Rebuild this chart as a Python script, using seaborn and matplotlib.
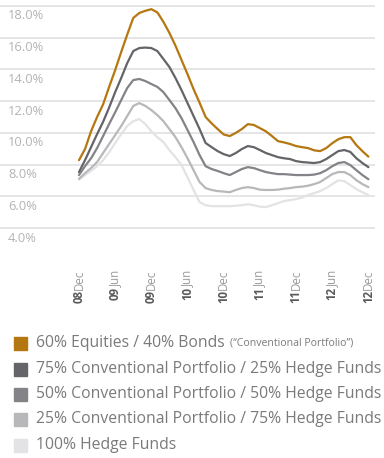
import numpy as np
import pandas as pd
import seaborn as sns
import matplotlib.pyplot as plt
from matplotlib.patches import Rectangle

# Monthly observations, Dec 2008 .. Dec 2012 (index 0..48)
months = list(range(49))

tick_months = [0, 6, 12, 18, 24, 30, 36, 42, 48]
tick_years = ["08", "09", "09", "10", "10", "11", "11", "12", "12"]
tick_mons = ["Dec", "Jun", "Dec", "Jun", "Dec", "Jun", "Dec", "Jun", "Dec"]

y_grid = [4, 6, 8, 10, 12, 14, 16, 18]

conventional = [8.28, 8.98, 10.1, 11.0, 11.8, 12.9, 13.96, 15.1, 16.2, 17.25,
                17.56, 17.7, 17.8, 17.6, 17.0, 16.3, 15.5, 14.6, 13.7, 12.76,
                11.9, 11.0, 10.6, 10.24, 9.9, 9.8, 10.0, 10.24, 10.55, 10.5,
                10.3, 10.1, 9.8, 9.48, 9.4, 9.3, 9.17, 9.1, 9.04, 8.9,
                8.85, 9.04, 9.35, 9.6, 9.73, 9.73, 9.23, 8.85, 8.5]
hf25 = [7.53, 8.28, 9.1, 9.92, 10.7, 11.6, 12.57, 13.46, 14.4, 15.16,
        15.35, 15.38, 15.35, 15.16, 14.66, 14.15, 13.46, 12.7, 11.88, 11.06,
        10.24, 9.36, 9.1, 8.85, 8.66, 8.54, 8.73, 8.98, 9.17, 9.1,
        8.92, 8.73, 8.6, 8.47, 8.4, 8.35, 8.22, 8.16, 8.13, 8.1,
        8.16, 8.35, 8.6, 8.85, 8.92, 8.8, 8.4, 8.1, 7.84]
hf50 = [7.34, 7.9, 8.4, 9.04, 9.8, 10.56, 11.3, 12.07, 12.83, 13.33,
        13.4, 13.27, 13.08, 12.9, 12.57, 12.07, 11.56, 10.93, 10.18, 9.42,
        8.6, 7.9, 7.72, 7.6, 7.46, 7.34, 7.53, 7.72, 7.84, 7.78,
        7.65, 7.53, 7.46, 7.4, 7.4, 7.37, 7.34, 7.34, 7.34, 7.37,
        7.46, 7.65, 7.9, 8.1, 8.16, 7.97, 7.65, 7.34, 7.08]
hf75 = [7.1, 7.46, 7.78, 8.16, 8.73, 9.3, 9.86, 10.43, 11.06, 11.7,
        11.88, 11.7, 11.44, 11.12, 10.74, 10.24, 9.73, 9.1, 8.4, 7.65,
        6.9, 6.52, 6.4, 6.33, 6.3, 6.26, 6.4, 6.52, 6.58, 6.52,
        6.42, 6.4, 6.4, 6.42, 6.48, 6.52, 6.58, 6.61, 6.67, 6.77,
        6.9, 7.15, 7.4, 7.53, 7.53, 7.34, 7.02, 6.77, 6.58]
hf100 = [7.05, 7.34, 7.6, 7.9, 8.28, 8.79, 9.36, 9.92, 10.43, 10.74,
         10.87, 10.56, 10.1, 9.73, 9.42, 8.91, 8.47, 7.97, 7.2, 6.4,
         5.63, 5.44, 5.38, 5.38, 5.38, 5.38, 5.41, 5.44, 5.5, 5.44,
         5.35, 5.32, 5.44, 5.57, 5.7, 5.76, 5.82, 5.92, 6.08, 6.2,
         6.33, 6.52, 6.77, 7.0, 6.96, 6.71, 6.45, 6.26, 6.08]

series_labels = [
    "60% Equities / 40% Bonds",
    "75% Conventional Portfolio / 25% Hedge Funds",
    "50% Conventional Portfolio / 50% Hedge Funds",
    "25% Conventional Portfolio / 75% Hedge Funds",
    "100% Hedge Funds",
]
series_colors = ["#b5770f", "#646469", "#838388", "#b8b8bb", "#e3e3e5"]

sns.set_style("white")
plt.rcParams["font.family"] = ["Open Sans", "DejaVu Sans"]

frames = []
for label, vals in zip(series_labels, [conventional, hf25, hf50, hf75, hf100]):
    frames.append(pd.DataFrame({"month": months, "value": vals, "series": label}))
df = pd.concat(frames, ignore_index=True)

W, H = 384, 458
fig = plt.figure(figsize=(W / 100, H / 100), dpi=100)
ax = fig.add_axes([0, 1 - 240 / H, 375 / W, 240 / H])

for v in y_grid:
    ax.axhline(v, color="#e3e3e3", lw=1.3, zorder=0)

sns.lineplot(data=df, x="month", y="value", hue="series",
             hue_order=series_labels[::-1],
             palette=dict(zip(series_labels, series_colors)),
             linewidth=1.6, legend=False, ax=ax, zorder=3)

ax.set_xlim(-13.1, 49.09)
ax.set_ylim(3.246, 18.38)
for s in ax.spines.values():
    s.set_visible(False)
ax.set_xlabel("")
ax.set_ylabel("")
ax.set_yticks([])
ax.set_xticks(tick_months)
ax.set_xticklabels([])
ax.tick_params(axis="x", direction="out", length=14.4, width=1.0,
               color="#bdbdbd", pad=0)

# Y-axis value labels sit just under each gridline
for v in y_grid:
    ax.annotate(f"{v:.1f}%", xy=(8 / 375, v), xycoords=ax.get_yaxis_transform(),
                xytext=(0, -2.5), textcoords="offset points",
                ha="left", va="top", fontsize=9.3, color="#b4b4b4")

# Date labels: bold year, regular month, rotated
for m, yr, mon in zip(tick_months, tick_years, tick_mons):
    t = ax.annotate(mon, xy=(m, 0), xycoords=ax.get_xaxis_transform(),
                    xytext=(0, -21.5), textcoords="offset points",
                    rotation=90, ha="center", va="top",
                    fontsize=8.3, color="#9a9a9a")
    ax.annotate(yr, xy=(0.5, 0), xycoords=t, xytext=(0, 0),
                textcoords="offset points", rotation=90, ha="center",
                va="top", fontsize=8.3, fontweight="bold", color="#5a5a5a")

# Legend
row_y = [343, 369, 394, 419, 445]
for label, color, yy in zip(series_labels, series_colors, row_y):
    fig.patches.append(Rectangle((14 / W, 1 - (yy + 6.5) / H), 13 / W, 13 / H,
                                 transform=fig.transFigure, color=color,
                                 zorder=5))
    t = fig.text(36 / W, 1 - yy / H, label, ha="left", va="center",
                 fontsize=11.3, color="#7a7a7a")
    if label.startswith("60%"):
        ax.annotate("(\u201cConventional Portfolio\u201d)", xy=(1, 0),
                    xycoords=t, xytext=(4, 2), textcoords="offset points",
                    ha="left", va="bottom", fontsize=7.6, color="#7a7a7a",
                    annotation_clip=False)

fig.savefig("out.png", dpi=100)
